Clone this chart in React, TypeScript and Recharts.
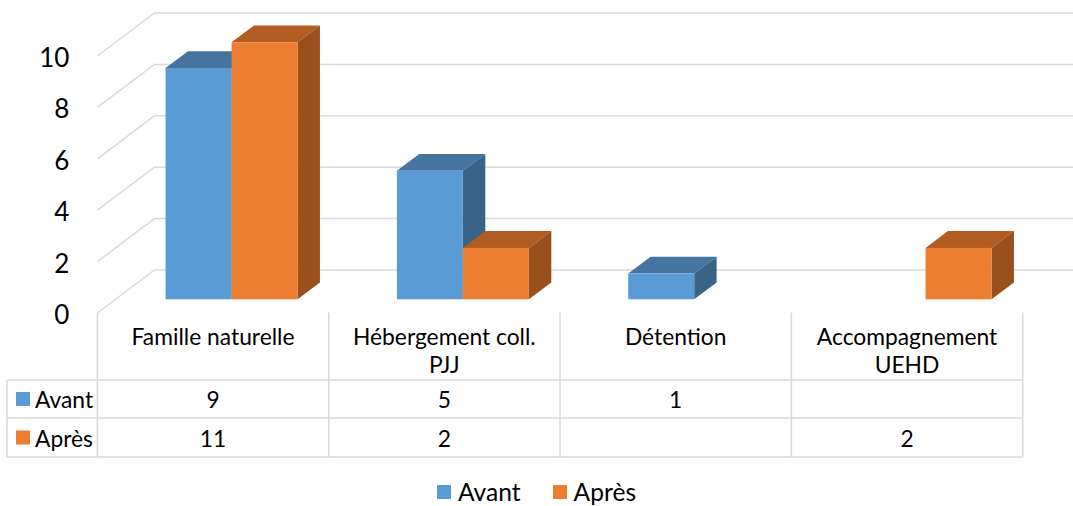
import React from 'react';
import { BarChart, Bar, XAxis, YAxis, CartesianGrid, Legend } from 'recharts';

// ---------- data ----------
const categories = ['Famille naturelle', 'Hébergement coll. PJJ', 'Détention', 'Accompagnement UEHD'];
const headerLines = [['Famille naturelle'], ['Hébergement coll.', 'PJJ'], ['Détention'], ['Accompagnement', 'UEHD']];
const avant: (number | null)[] = [9, 5, 1, null];
const apres: (number | null)[] = [11, 2, null, 2];
const yTicks = [0, 2, 4, 6, 8, 10];
const seriesNames = ['Avant', 'Après'];
const seriesKeys = ['avant', 'apres'];

const data = categories.map((c, i) => ({ category: c, avant: avant[i], apres: apres[i] }));
const seriesValues: Record<string, (number | null)[]> = { avant, apres };

// ---------- layout / style ----------
const W = 1073;
const H = 506;
const FONT = 'Lato, "Open Sans", sans-serif';
const TABLE_FS = 22.8;
const AXIS_W = 1;
const PLOT_LEFT = 115.6;
const PLOT_RIGHT = 1040.9;
const ZERO_Y = 299.3;
const UNIT = 25.7; // px per unit
const AXIS_MAX = yTicks[yTicks.length - 1];
const DATA_MAX = Math.max(...[...avant, ...apres].filter((v): v is number => v != null));
const TOP = ZERO_Y - DATA_MAX * UNIT;
const BAND = (PLOT_RIGHT - PLOT_LEFT) / categories.length;

// oblique projection offsets relative to the bar front plane
const FX = -18.2, FY = 13.7; // to front floor edge
const BX = 38.8, BY = -29.3; // to back wall
const DX = 22.4, DY = -16.8; // bar depth

const GRID = '#d9d9d9';
const colors = {
  avant: { front: '#5b9bd5', top: '#44749f', side: '#3a6487' },
  apres: { front: '#ed7d31', top: '#b15d22', side: '#9a501d' },
} as Record<string, { front: string; top: string; side: string }>;

const HEADER_TOP = 312.5;
const ROW1 = 380;
const ROW2 = 418;
const ROW_END = 457;
const TABLE_LEFT = 7;
const HEADER_Y = 336;
const HEADER_LINE = 27.5;

function make3DShape(key: string) {
  const c = colors[key];
  return (p: any) => {
    const v = p?.payload?.[key];
    if (v == null || !p.height) return <g />;
    const bottom = p.y + p.height;
    const unit = p.height / v;
    const yT = bottom - Math.min(v, AXIS_MAX) * unit;
    const x0 = p.x;
    const x1 = p.x + p.width;
    return (
      <g>
        <polygon
          points={`${x0},${yT} ${x0 + DX},${yT + DY} ${x1 + DX},${yT + DY} ${x1},${yT}`}
          fill={c.top}
        />
        <polygon
          points={`${x1},${yT} ${x1 + DX},${yT + DY} ${x1 + DX},${bottom + DY} ${x1},${bottom}`}
          fill={c.side}
        />
        <rect x={x0} y={yT} width={p.width} height={bottom - yT} fill={c.front} />
      </g>
    );
  };
}

const GridLine = (p: any) => {
  const y = p.y1;
  const x = p.x1;
  return (
    <polyline
      key={p.key}
      points={`${x + FX},${y + FY} ${x + BX},${y + BY} ${W + 10},${y + BY}`}
      fill="none"
      stroke={GRID}
      strokeWidth={1.5}
    />
  );
};

const YTick = (p: any) => (
  <text
    x={PLOT_LEFT + FX - 28}
    y={p.y + FY + 1}
    textAnchor="end"
    dominantBaseline="central"
    fontSize={26}
    fontFamily={FONT}
    fill="#000"
  >
    {p.payload.value}
  </text>
);

const TableColumn = (p: any) => {
  let i = p.payload?.index;
  if (i == null) i = categories.indexOf(p.payload.value);
  const cx = p.x + FX;
  const l = cx - BAND / 2;
  const r = cx + BAND / 2;
  const lines = headerLines[i];
  const ln = { stroke: GRID, strokeWidth: 1.5 };
  const rowCenters = [(ROW1 + ROW2) / 2, (ROW2 + ROW_END) / 2];
  return (
    <g>
      {i === 0 && <line x1={l} y1={HEADER_TOP} x2={l} y2={ROW_END} {...ln} />}
      <line x1={r} y1={HEADER_TOP} x2={r} y2={ROW_END} {...ln} />
      {[ROW1, ROW2, ROW_END].map((yy) => (
        <line key={yy} x1={l} y1={yy} x2={r} y2={yy} {...ln} />
      ))}
      {lines.map((t, k) => (
        <text
          key={k}
          x={cx}
          y={HEADER_Y + k * HEADER_LINE}
          textAnchor="middle"
          dominantBaseline="central"
          fontSize={TABLE_FS}
          fontFamily={FONT}
          fill="#000"
        >
          {t}
        </text>
      ))}
      {seriesKeys.map((sk, j) => {
        const v = seriesValues[sk][i];
        return v == null ? null : (
          <text
            key={sk}
            x={cx}
            y={rowCenters[j]}
            textAnchor="middle"
            dominantBaseline="central"
            fontSize={TABLE_FS}
            fontFamily={FONT}
            fill="#000"
          >
            {v}
          </text>
        );
      })}
      {i === 0 && (
        <g>
          <line x1={TABLE_LEFT} y1={ROW1} x2={TABLE_LEFT} y2={ROW_END} {...ln} />
          {[ROW1, ROW2, ROW_END].map((yy) => (
            <line key={'l' + yy} x1={TABLE_LEFT} y1={yy} x2={l} y2={yy} {...ln} />
          ))}
          {seriesKeys.map((sk, j) => (
            <g key={'rl' + sk}>
              <rect x={16} y={rowCenters[j] - 7} width={14} height={14} fill={colors[sk].front} />
              <text
                x={35}
                y={rowCenters[j]}
                dominantBaseline="central"
                fontSize={TABLE_FS}
                fontFamily={FONT}
                fill="#000"
              >
                {seriesNames[j]}
              </text>
            </g>
          ))}
        </g>
      )}
    </g>
  );
};

const LegendContent = (props: any) => {
  const payload = [...(props.payload || [])].sort(
    (a: any, b: any) => seriesNames.indexOf(a.value) - seriesNames.indexOf(b.value)
  );
  return (
    <div style={{ display: 'flex', justifyContent: 'center', gap: 32, fontFamily: FONT, fontSize: 24.6 }}>
      {payload.map((e: any) => (
        <div key={e.value} style={{ display: 'flex', alignItems: 'center', gap: 7 }}>
          <span style={{ display: 'inline-block', width: 14, height: 14, background: e.color }} />
          <span style={{ color: '#000', lineHeight: '28px' }}>{e.value}</span>
        </div>
      ))}
    </div>
  );
};

export default function App() {
  return (
    <div style={{ position: 'absolute', left: 0, top: 0, width: W, height: H, background: '#fff', fontFamily: FONT }}>
      <BarChart
        width={W}
        height={H}
        data={data}
        margin={{ top: TOP, left: PLOT_LEFT - AXIS_W, right: W - PLOT_RIGHT, bottom: H - ZERO_Y - AXIS_W }}
        barCategoryGap="21.6%"
        barGap={0}
      >
        <CartesianGrid vertical={false} horizontal={GridLine as any} horizontalValues={yTicks} />
        <XAxis
          dataKey="category"
          height={AXIS_W}
          axisLine={false}
          tickLine={false}
          tick={TableColumn}
          interval={0}
        />
        <YAxis
          width={AXIS_W}
          domain={[0, 'dataMax']}
          ticks={yTicks}
          axisLine={false}
          tickLine={false}
          tick={YTick}
          interval={0}
        />
        <Legend
          verticalAlign="middle"
          align="center"
          layout="horizontal"
          content={LegendContent}
          wrapperStyle={{ position: 'absolute', top: 478, left: 0, width: W }}
        />
        <Bar dataKey="avant" name={seriesNames[0]} fill={colors.avant.front} shape={make3DShape('avant')} isAnimationActive={false} />
        <Bar dataKey="apres" name={seriesNames[1]} fill={colors.apres.front} shape={make3DShape('apres')} isAnimationActive={false} />
      </BarChart>
    </div>
  );
}
